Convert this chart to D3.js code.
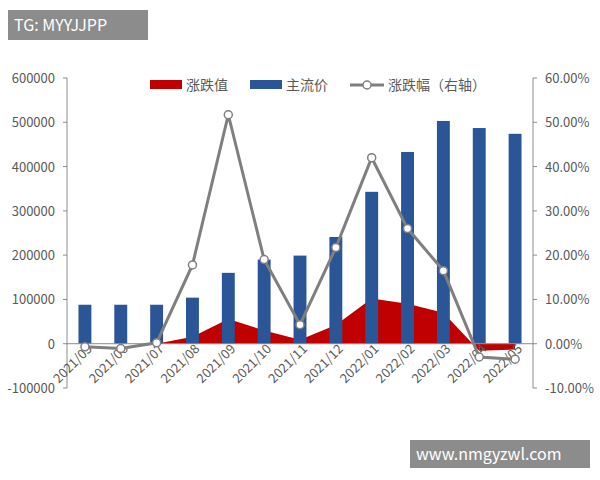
<!DOCTYPE html>
<html><head><meta charset="utf-8">
<script src="https://cdn.jsdelivr.net/npm/d3@7/dist/d3.min.js"></script>
<style>body{margin:0;background:#fff;font-family:"Noto Sans CJK SC","Noto Sans",sans-serif;}</style>
</head><body><div id="chart"></div>
<script>
var months = ["2021/05","2021/06","2021/07","2021/08","2021/09","2021/10","2021/11","2021/12","2022/01","2022/02","2022/03","2022/04","2022/05"];
var price = [88000,88000,88000,104000,160000,190000,199000,241000,343000,433000,503000,487000,474000];
var change = [0,0,0,16000,56000,30000,9000,42000,102000,90000,70000,-16000,-13000];
var pct = [-0.007,-0.011,0.002,0.178,0.517,0.19,0.043,0.217,0.42,0.26,0.165,-0.03,-0.035];
var leftTicks = [-100000,0,100000,200000,300000,400000,500000,600000];
var rightTicks = [-0.1,0,0.1,0.2,0.3,0.4,0.5,0.6];

var W = 600, H = 480;
var svg = d3.select("#chart").append("svg").attr("width", W).attr("height", H);

var x = d3.scaleBand().domain(months).range([67, 533]).paddingInner(0.64).paddingOuter(0.32);
var y = d3.scaleLinear().domain([-100000, 600000]).range([388, 78]);
var y2 = d3.scaleLinear().domain([-0.1, 0.6]).range([388, 78]);
var cx = function(i){ return x(months[i]) + x.bandwidth()/2; };

// axes lines
svg.append("line").attr("x1",67).attr("x2",67).attr("y1",78).attr("y2",388).attr("stroke","#8c8c8c");
svg.append("line").attr("x1",533).attr("x2",533).attr("y1",78).attr("y2",388).attr("stroke","#8c8c8c");
svg.selectAll(".lk").data(leftTicks).enter().append("line")
  .attr("x1",63).attr("x2",67).attr("y1",function(d){return y(d);}).attr("y2",function(d){return y(d);}).attr("stroke","#8c8c8c");
svg.selectAll(".rk").data(rightTicks).enter().append("line")
  .attr("x1",533).attr("x2",537).attr("y1",function(d){return y2(d);}).attr("y2",function(d){return y2(d);}).attr("stroke","#8c8c8c");
svg.selectAll(".lt").data(leftTicks).enter().append("text")
  .attr("x",55).attr("y",function(d){return y(d)+5;}).attr("text-anchor","end")
  .attr("font-size",13).attr("fill","#595959").text(function(d){return d;});
svg.selectAll(".rt").data(rightTicks).enter().append("text")
  .attr("x",545).attr("y",function(d){return y2(d)+5;})
  .attr("font-size",13).attr("fill","#595959").text(function(d){return (d*100).toFixed(2)+"%";});

// area
var area = d3.area().x(function(d,i){return cx(i);}).y0(y(0)).y1(function(d){return y(d);});
svg.append("path").datum(change).attr("d", area).attr("fill","#c00000");

// bars
svg.selectAll(".bar").data(price).enter().append("rect")
  .attr("x",function(d,i){return x(months[i]);}).attr("width",x.bandwidth())
  .attr("y",function(d){return y(d);}).attr("height",function(d){return y(0)-y(d);})
  .attr("fill","#2a5597");

// x axis
svg.append("line").attr("x1",67).attr("x2",533).attr("y1",y(0)).attr("y2",y(0)).attr("stroke","#8c8c8c");
svg.selectAll(".xl").data(months).enter().append("text")
  .attr("transform",function(d,i){return "translate("+(cx(i)+8)+","+(y(0)+6)+") rotate(-45)";})
  .attr("text-anchor","end").attr("font-size",13).attr("fill","#595959").text(function(d){return d;});

// line
var line = d3.line().x(function(d,i){return cx(i);}).y(function(d){return y2(d);});
svg.append("path").datum(pct).attr("d",line).attr("fill","none").attr("stroke","#7f7f7f").attr("stroke-width",3);
svg.selectAll(".pt").data(pct).enter().append("circle")
  .attr("cx",function(d,i){return cx(i);}).attr("cy",function(d){return y2(d);}).attr("r",4)
  .attr("fill","#fff").attr("stroke","#7f7f7f").attr("stroke-width",1.5);

// legend
var lg = svg.append("g").attr("font-size",14).attr("fill","#595959");
lg.append("rect").attr("x",150).attr("y",80).attr("width",32).attr("height",9).attr("fill","#c00000");
lg.append("text").attr("x",186).attr("y",90).text("涨跌值");
lg.append("rect").attr("x",250).attr("y",80).attr("width",32).attr("height",9).attr("fill","#2a5597");
lg.append("text").attr("x",286).attr("y",90).text("主流价");
lg.append("line").attr("x1",350).attr("x2",384).attr("y1",85).attr("y2",85).attr("stroke","#7f7f7f").attr("stroke-width",3);
lg.append("circle").attr("cx",367).attr("cy",85).attr("r",4).attr("fill","#fff").attr("stroke","#7f7f7f").attr("stroke-width",1.5);
lg.append("text").attr("x",388).attr("y",90).text("涨跌幅（右轴）");

// watermarks
svg.append("rect").attr("x",8).attr("y",10).attr("width",140).attr("height",30).attr("fill","#8c8c8c");
svg.append("text").attr("x",14).attr("y",31).attr("font-size",16).attr("fill","#fff").text("TG: MYYJJPP");
svg.append("rect").attr("x",410).attr("y",440).attr("width",180).attr("height",28).attr("fill","#8c8c8c");
svg.append("text").attr("x",416).attr("y",460).attr("font-size",16).attr("fill","#fff").text("www.nmgyzwl.com");
</script></body></html>
